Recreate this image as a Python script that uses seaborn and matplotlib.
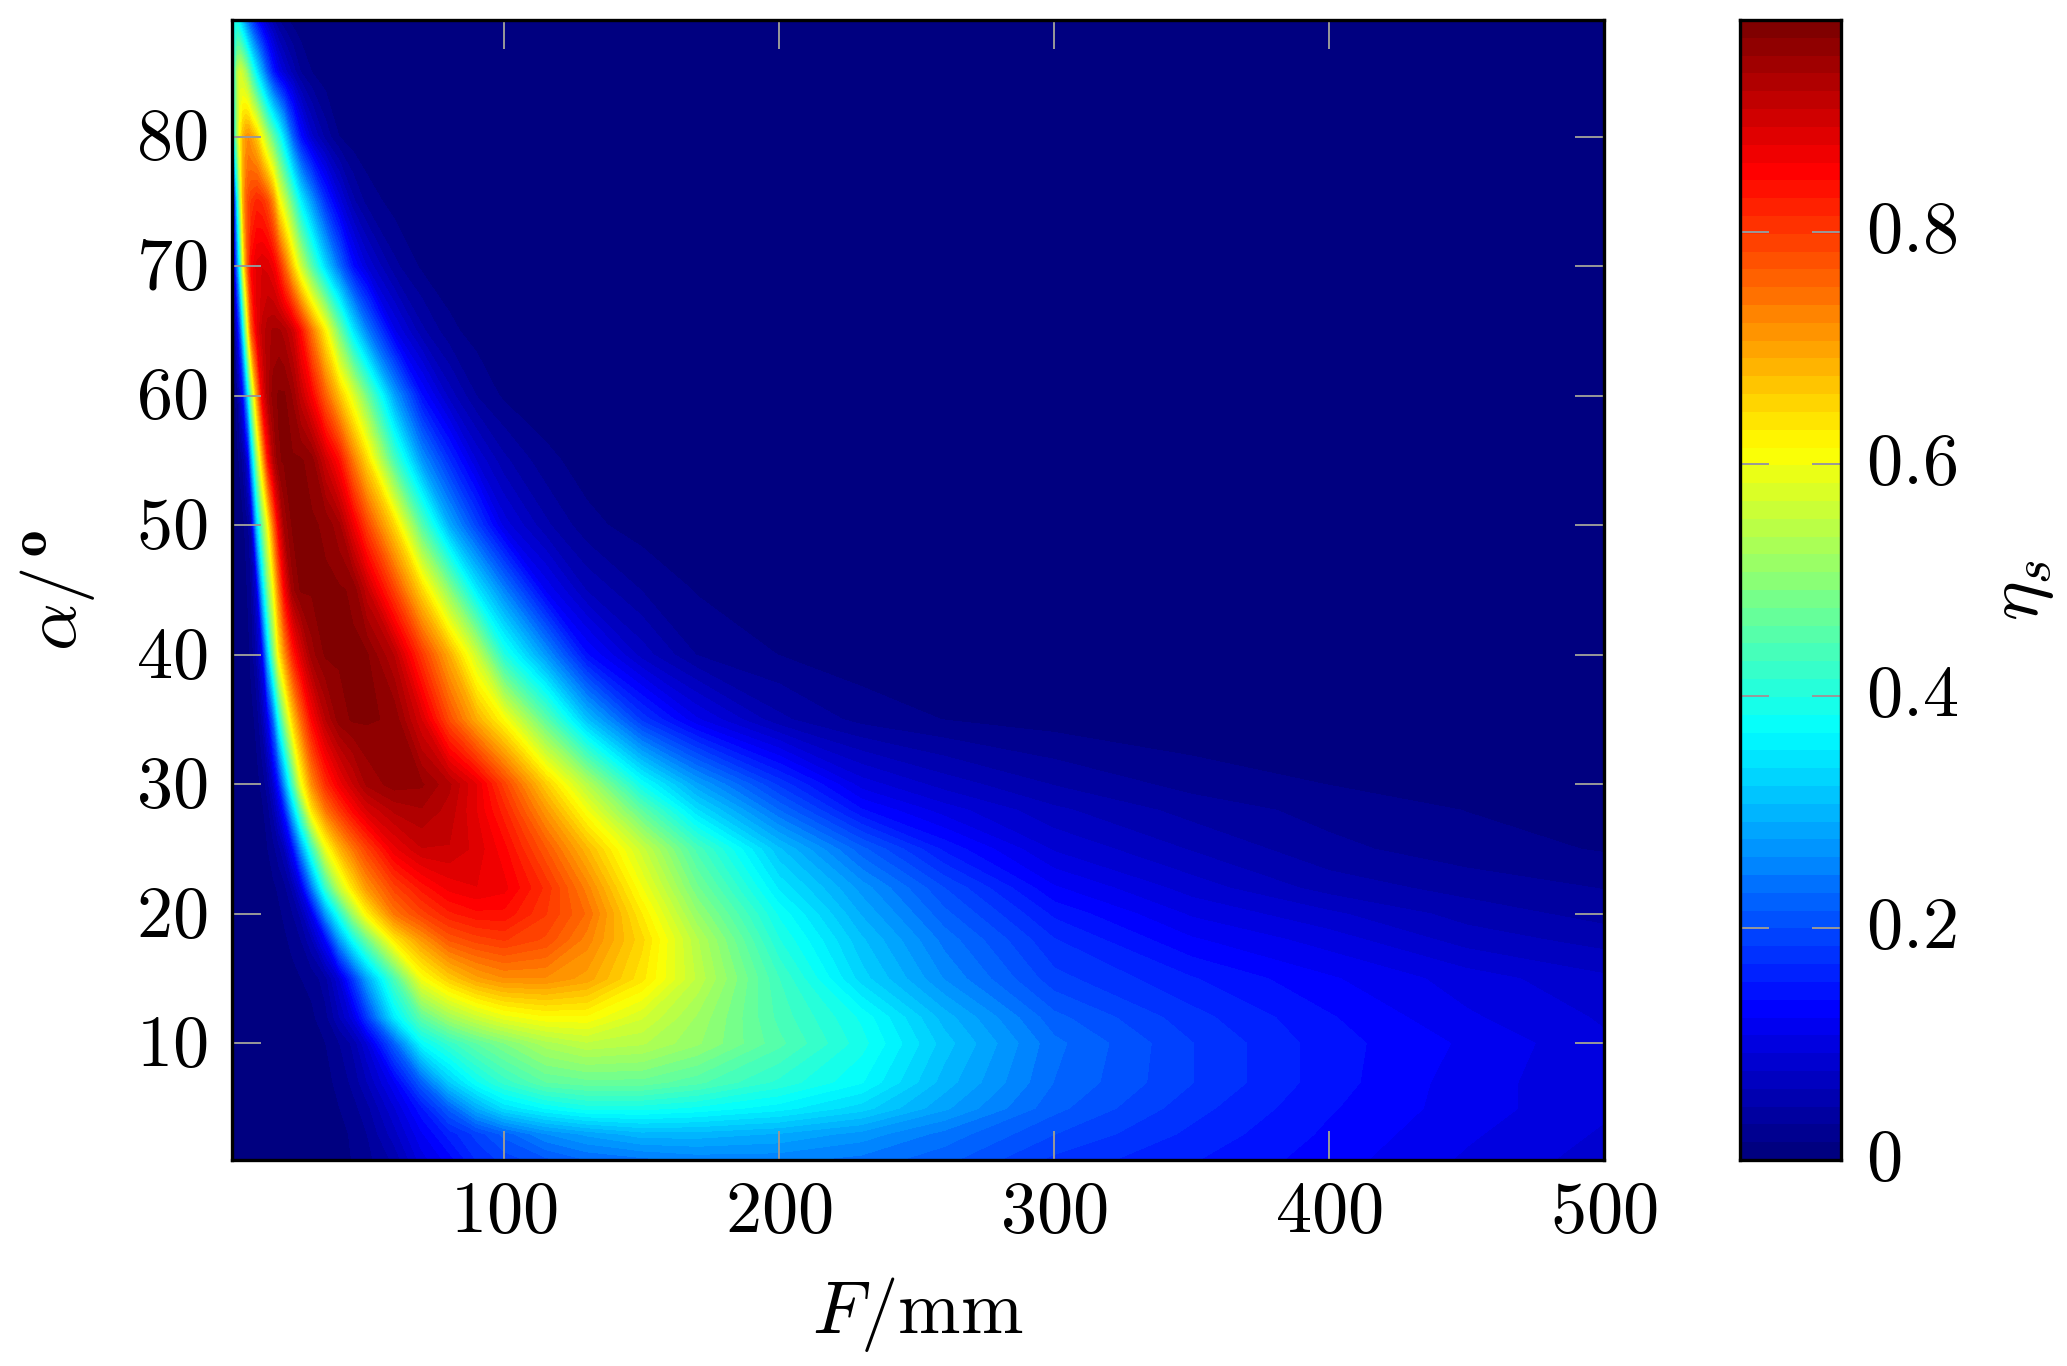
import numpy as np
import matplotlib
matplotlib.use("Agg")
import matplotlib.pyplot as plt
from matplotlib.colors import ListedColormap, LinearSegmentedColormap
from matplotlib.transforms import ScaledTranslation
import seaborn as sns

F_mm = [1,2,3,4,5,6,7,8,10,12, 14,16,18,20,23,26,30,35,40,45, 50,60,70,80,90,100,115,130,150,170, 200,230,260,300,350,400,450,500]
alpha_deg = [1,3,5,7,10,12,15,18,20,22,25,28,30,35,40,45,50,55,60,65,70,75,80,85,89]

a01 = [0,0,0,0,0,0,0,0,0,0, 0,0,0,0,.001,.002,.003,.005,.01,.016, .025,.05,.10,.13,.17,.19,.21,.23,.24,.25, .25,.24,.22,.18,.155,.13,.105,.085]
a03 = [0,0,0,0,0,0,0,0,0,0, 0,0,0,0,.001,.002,.003,.005,.01,.018, .03,.07,.12,.16,.19,.22,.26,.28,.30,.30, .29,.27,.24,.20,.165,.135,.11,.09]
a05 = [0,0,0,0,0,0,0,0,0,0, 0,0,0,.001,.002,.003,.004,.008,.015,.025, .04,.09,.15,.22,.29,.34,.37,.39,.39,.38, .36,.33,.28,.22,.175,.14,.115,.095]
a07 = [0,0,0,0,0,0,0,0,0,0, 0,0,.001,.002,.003,.004,.005,.01,.02,.035, .06,.12,.22,.32,.38,.42,.46,.47,.47,.45, .41,.37,.30,.23,.185,.145,.115,.095]
a10 = [0,0,0,0,0,0,0,0,0,0, 0,.001,.002,.003,.005,.006,.01,.015,.03,.05, .09,.22,.37,.42,.46,.49,.53,.55,.54,.51, .45,.39,.315,.235,.185,.145,.12,.095]
a12 = [0,0,0,0,0,0,0,0,0,0, .001,.002,.003,.004,.006,.008,.012,.025,.06,.10, .18,.35,.46,.52,.56,.59,.61,.61,.57,.52, .44,.38,.30,.22,.175,.14,.11,.09]
a15 = [0,0,0,0,0,0,0,0,0,.001, .002,.003,.005,.007,.01,.015,.02,.04,.09,.18, .28,.44,.60,.66,.70,.72,.72,.70,.635,.55, .43,.33,.26,.19,.155,.125,.10,.08]
a18 = [0,0,0,0,0,0,0,0,.001,.002, .003,.005,.008,.012,.02,.03,.06,.13,.27,.38, .47,.63,.71,.77,.79,.80,.78,.73,.65,.54, .40,.31,.24,.17,.125,.10,.07,.055]
a20 = [0,0,0,0,0,0,0,.001,.002,.003, .005,.008,.012,.018,.03,.05,.11,.27,.40,.52, .62,.74,.79,.825,.84,.84,.80,.75,.63,.51, .38,.29,.22,.15,.105,.08,.055,.04]
a22 = [0,0,0,0,0,0,0,0,.002,.004, .008,.012,.018,.025,.05,.10,.24,.42,.55,.64, .71,.79,.835,.865,.875,.865,.81,.73,.60,.48, .35,.27,.20,.125,.085,.055,.04,.03]
a25 = [0,0,0,0,0,0,.001,.002,.004,.008, .015,.025,.04,.06,.13,.26,.42,.59,.68,.74, .79,.87,.905,.905,.885,.85,.77,.68,.56,.44, .31,.22,.15,.09,.06,.035,.022,.014]
a28 = [0,0,0,0,0,.001,.002,.003,.006,.012, .025,.05,.09,.15,.31,.46,.635,.74,.80,.85, .89,.925,.935,.915,.875,.82,.71,.60,.46,.34, .23,.14,.10,.065,.04,.025,.015,.008]
a30 = [0,0,0,0,.001,.002,.003,.005,.01,.02, .04,.08,.15,.26,.43,.59,.72,.81,.865,.905, .94,.96,.955,.925,.875,.79,.66,.54,.38,.28, .18,.10,.07,.045,.025,.015,.008,.004]
a35 = [0,0,0,0,.002,.004,.006,.01,.02,.05, .11,.22,.38,.50,.65,.75,.85,.92,.96,.97, .97,.965,.89,.78,.69,.61,.46,.31,.18,.11, .05,.025,.015,.008,.003,.001,0,0]
a40 = [0,0,0,.001,.003,.005,.01,.02,.05,.11, .31,.47,.62,.71,.82,.885,.945,.97,.97,.97, .97,.92,.80,.69,.56,.40,.27,.14,.07,.03, .015,.006,.003,.001,0,0,0,0]
a45 = [0,0,0,.002,.005,.01,.02,.03,.09,.31, .48,.60,.74,.85,.945,.97,.97,.97,.97,.965, .91,.79,.65,.50,.35,.25,.12,.06,.03,.014, .005,.002,0,0,0,0,0,0]
a50 = [0,0,0,.005,.01,.02,.03,.05,.31,.47, .60,.74,.865,.94,.97,.97,.97,.965,.94,.87, .79,.65,.45,.29,.19,.10,.05,.02,.008,.003, .001,0,0,0,0,0,0,0]
a55 = [0,0,.01,.02,.035,.06,.11,.27,.50,.67, .83,.92,.965,.97,.97,.97,.96,.90,.84,.74, .65,.44,.27,.17,.09,.05,.02,.008,.003,.001, 0,0,0,0,0,0,0,0]
a60 = [0,.01,.03,.07,.12,.24,.36,.49,.70,.865, .93,.96,.97,.97,.95,.91,.855,.76,.67,.58, .48,.28,.14,.07,.03,.012,.004,.001,0,0, 0,0,0,0,0,0,0,0]
a65 = [.005,.03,.10,.20,.34,.49,.63,.76,.87,.91, .93,.94,.94,.93,.90,.84,.74,.62,.48,.35, .25,.11,.05,.02,.008,.003,.001,0,0,0, 0,0,0,0,0,0,0,0]
a70 = [.03,.11,.25,.40,.58,.70,.79,.85,.88,.89, .885,.865,.82,.76,.66,.56,.45,.33,.23,.14, .09,.035,.012,.004,.001,0,0,0,0,0, 0,0,0,0,0,0,0,0]
a75 = [.06,.17,.37,.53,.68,.75,.78,.80,.82,.81, .78,.72,.62,.56,.46,.36,.27,.17,.10,.05, .025,.008,.002,0,0,0,0,0,0,0, 0,0,0,0,0,0,0,0]
a80 = [.28,.42,.53,.62,.68,.71,.72,.70,.66,.59, .52,.46,.40,.33,.22,.14,.08,.04,.015,.005, .002,0,0,0,0,0,0,0,0,0, 0,0,0,0,0,0,0,0]
a85 = [.33,.45,.54,.57,.55,.52,.48,.43,.35,.28, .21,.15,.11,.085,.055,.03,.015,.005,.002,0, 0,0,0,0,0,0,0,0,0,0, 0,0,0,0,0,0,0,0]
a89 = [.30,.38,.38,.34,.30,.26,.22,.19,.14,.10, .07,.05,.03,.02,.01,.005,.002,0,0,0, 0,0,0,0,0,0,0,0,0,0, 0,0,0,0,0,0,0,0]

eta_s = np.array([a01,a03,a05,a07,a10,a12,a15,a18,a20,a22,a25,a28,a30,a35,a40,a45,a50,a55,a60,a65,a70,a75,a80,a85,a89])

x_ticks = [100, 200, 300, 400, 500]
y_ticks = [10, 20, 30, 40, 50, 60, 70, 80]
cbar_ticks = [0, 0.2, 0.4, 0.6, 0.8]
eta_max = 0.983
n_bands = 64

sns.set_theme(style="white")
plt.rcParams["mathtext.fontset"] = "cm"
plt.rcParams["font.family"] = ["DejaVu Serif"]

W, H = 2067, 1366
fig = plt.figure(figsize=(W / 100, H / 100), dpi=100, facecolor="white")
ax = fig.add_axes([232 / W, 1 - 1160 / H, (1604 - 232) / W, (1160 - 20) / H])
cax = fig.add_axes([1740 / W, 1 - 1160 / H, (1841 - 1740) / W, (1160 - 20) / H])

# jet as pgfplots defines it: evenly spaced pure blue, cyan, yellow and red
jet_nodes = [(0, (0, 0, .5)), (.125, (0, 0, 1)), (.375, (0, 1, 1)),
             (.625, (1, 1, 0)), (.875, (1, 0, 0)), (1, (.5, 0, 0))]
smooth_jet = LinearSegmentedColormap.from_list("pgf_jet", jet_nodes)
palette = [tuple(c) for c in smooth_jet(np.linspace(0, 1, n_bands))[:, :3]]
band_cmap = ListedColormap(palette)
levels = np.linspace(0, eta_max, n_bands + 1)
ax.contourf(F_mm, alpha_deg, eta_s, levels=levels, colors=palette, extend="both")
ax.set_xlim(1, 500)
ax.set_ylim(1, 89)
ax.set_axisbelow(False)

TS = 52
LS = 54
tick_kw = dict(direction="in", length=21, width=1.4, color="#999999", labelsize=TS, labelcolor="black")
ax.set_xticks(x_ticks, [f"${v}$" for v in x_ticks])
ax.set_yticks(y_ticks, [f"${v}$" for v in y_ticks])
ax.tick_params(axis="x", top=True, bottom=True, pad=12, **tick_kw)
ax.tick_params(axis="y", left=True, right=True, pad=18, **tick_kw)
ax.set_xlabel(r"$F/\mathrm{mm}$", fontsize=LS, labelpad=20, color="black")
ax.set_ylabel(r"$\alpha/^{\mathbf{o}}$", fontsize=LS, labelpad=28, color="black")

strip = (levels[:-1] + levels[1:]).reshape(-1, 1) / 2
sns.heatmap(strip, ax=cax, cbar=False, cmap=band_cmap, vmin=0, vmax=eta_max,
            xticklabels=False, yticklabels=False)
cax.set_ylim(0, n_bands)
cax.set_xticks([])
cax.set_yticks([v / eta_max * n_bands for v in cbar_ticks],
               ["$0$"] + [f"${v}$" for v in cbar_ticks[1:]])
cax.set_axisbelow(False)
cax.tick_params(axis="y", left=True, right=True, labelleft=False, labelright=True, pad=18, **tick_kw)
cax.yaxis.set_label_position("right")
cax.set_ylabel(r"$\eta_s$", fontsize=LS, labelpad=18, color="black", rotation=90)

# raise the y tick labels so that they sit on their ticks as in the reference
for a, dy in ((ax, 5), (cax, 8)):
    shift = ScaledTranslation(0, dy / 100, fig.dpi_scale_trans)
    for lab in a.get_yticklabels():
        lab.set_transform(lab.get_transform() + shift)

for a in (ax, cax):
    for s in a.spines.values():
        s.set_visible(True)
        s.set_color("black")
        s.set_linewidth(2.4)
        s.set_zorder(5)

fig.savefig("out.png", dpi=100)
